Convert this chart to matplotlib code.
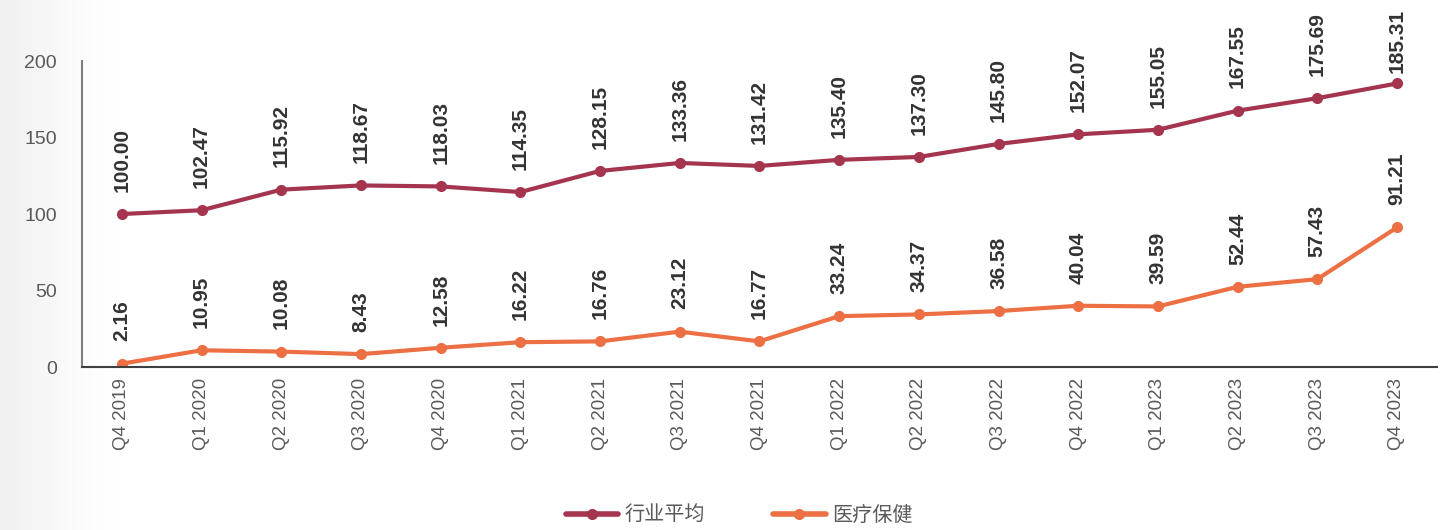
import numpy as np
import matplotlib.pyplot as plt

plt.rcParams['font.family'] = ['Liberation Sans', 'Noto Sans CJK SC', 'DejaVu Sans']

quarters = ['Q4 2019', 'Q1 2020', 'Q2 2020', 'Q3 2020', 'Q4 2020', 'Q1 2021',
            'Q2 2021', 'Q3 2021', 'Q4 2021', 'Q1 2022', 'Q2 2022', 'Q3 2022',
            'Q4 2022', 'Q1 2023', 'Q2 2023', 'Q3 2023', 'Q4 2023']
industry_avg = [100.00, 102.47, 115.92, 118.67, 118.03, 114.35, 128.15, 133.36, 131.42,
                135.40, 137.30, 145.80, 152.07, 155.05, 167.55, 175.69, 185.31]
healthcare = [2.16, 10.95, 10.08, 8.43, 12.58, 16.22, 16.76, 23.12, 16.77,
              33.24, 34.37, 36.58, 40.04, 39.59, 52.44, 57.43, 91.21]
series_names = ['行业平均', '医疗保健']
colors = ['#A5344F', '#EC7043']

fig = plt.figure(figsize=(14.49, 5.3), dpi=100)

# soft grey gradient on the left edge
bg = fig.add_axes([0, 0, 1, 1], zorder=-10)
grad = np.linspace(0, 1, 1449)
alpha = np.clip(1 - grad / 0.08, 0, 1) ** 1.3
img = np.ones((1, 1449, 3))
img[0, :, :] = (1 - 0.06 * alpha)[:, None]
bg.imshow(img, aspect='auto', extent=[0, 1, 0, 1])
bg.axis('off')

ax = fig.add_axes([0.0566, 0.3075, 0.935, 0.5774])
ax.patch.set_alpha(0)
x = np.arange(len(quarters))
ax.set_xlim(-0.5, len(quarters) - 0.5)
ax.set_ylim(0, 200)

fig_h = fig.get_figheight() * fig.dpi
for vals, name, c in zip([industry_avg, healthcare], series_names, colors):
    ax.plot(x, vals, color=c, lw=3, marker='o', ms=7, label=name, solid_capstyle='round')
    for xi, v in zip(x, vals):
        # keep labels inside the figure: shrink the offset near the top
        room = fig_h - ax.transData.transform((xi, v))[1]
        off = min(16, (room - 73) * 0.72)
        ax.annotate(f'{v:.2f}', (xi, v), xytext=(0, off), textcoords='offset points',
                    rotation=90, ha='center', va='bottom', fontsize=15,
                    fontweight='bold', color='#333333')

ax.set_yticks([0, 50, 100, 150, 200])
ax.set_xticks(x)
ax.set_xticklabels(quarters, rotation=90, fontsize=13.5, color='#595959')
ax.tick_params(axis='y', length=0, pad=18, labelsize=14, labelcolor='#595959')
ax.tick_params(axis='x', length=0, pad=8)
for s in ['top', 'right']:
    ax.spines[s].set_visible(False)
ax.spines['left'].set_color('#7f7f7f')
ax.spines['left'].set_linewidth(1.5)
ax.spines['bottom'].set_color('#404040')
ax.spines['bottom'].set_linewidth(1.5)

leg = fig.legend(loc='center', bbox_to_anchor=(0.51, 0.028), ncol=2, frameon=False,
                 fontsize=14.5, handlelength=2.6, columnspacing=3.4, handletextpad=0.3)
for t in leg.get_texts():
    t.set_color('#595959')
for h in leg.legend_handles:
    h.set_linewidth(4)

fig.savefig('out.png', dpi=100)
